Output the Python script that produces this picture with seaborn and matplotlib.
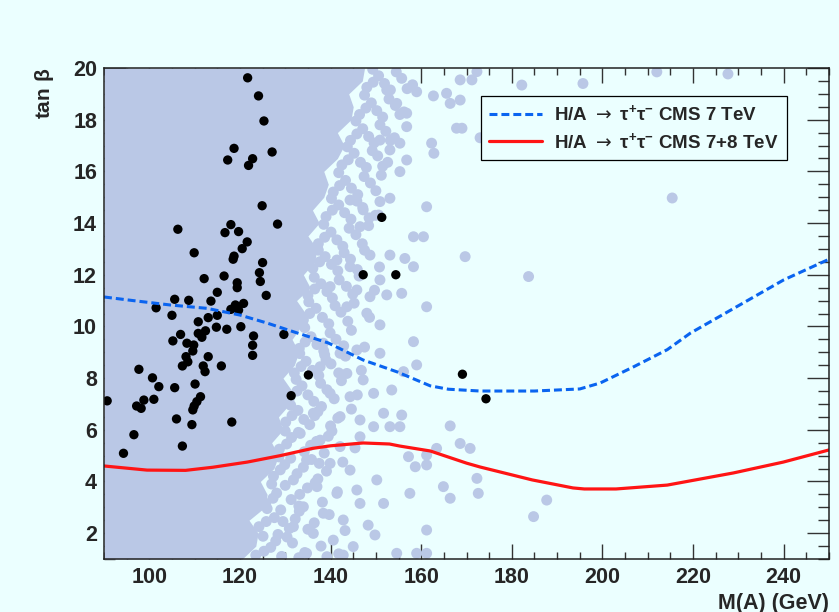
import matplotlib
matplotlib.use("Agg")
import matplotlib.pyplot as plt
import numpy as np
import pandas as pd
import seaborn as sns
from matplotlib.ticker import MultipleLocator

# ---------------- data ----------------
# CMS 7 TeV exclusion (blue dashed)
blue_x = [90, 96.4, 104.6, 112.7, 120, 126, 131.7, 139.5, 147.2, 154.7, 162, 166,
          173, 185, 195, 199.5, 206.8, 214.3, 219.4, 225, 230, 235, 240, 245, 250]
blue_y = [11.14, 11.0, 10.83, 10.7, 10.44, 10.13, 9.8, 9.36, 8.7, 8.24, 7.7, 7.57,
          7.5, 7.5, 7.58, 7.81, 8.43, 9.1, 9.74, 10.3, 10.8, 11.3, 11.8, 12.2, 12.6]

# CMS 7+8 TeV exclusion (red solid)
red_x = [90, 99.5, 108, 114, 121.6, 128.9, 136, 140, 147.2, 153, 155.3, 162, 170,
         173, 184.5, 193.5, 196, 203, 214.3, 228.9, 239.9, 250]
red_y = [4.6, 4.44, 4.43, 4.55, 4.75, 5.0, 5.28, 5.38, 5.49, 5.45, 5.37, 5.18, 4.71,
         4.56, 4.06, 3.75, 3.71, 3.71, 3.86, 4.33, 4.75, 5.22]

# black points (selected scan points)
black_x = [121.7, 124.1, 125.3, 118.7, 117.3, 122.8, 121.9, 127.1, 124.9, 128.3,
           106.3, 118.0, 116.7, 119.7, 121.6, 120.5, 109.9, 118.7, 118.5, 125.0,
           124.3, 124.5, 112.1, 116.5, 119.4, 119.4, 125.8, 115.0, 105.6, 108.7,
           113.6, 101.5, 119.0, 120.8, 118.0, 119.7, 105.0, 113.0, 115.0, 110.8,
           114.8, 117.1, 120.2, 129.7, 123.0, 106.9, 110.8, 112.4, 111.6, 105.2,
           108.3, 109.8, 122.8, 109.6, 122.8, 108.1, 113.0, 108.5, 107.3, 111.9,
           112.3, 115.9, 97.7, 100.7, 102.1, 105.6, 110.1, 135.1, 131.3, 90.7,
           101.0, 98.8, 97.2, 98.2, 111.3, 110.5, 109.9, 109.6, 106.0, 109.4,
           118.2, 96.6, 107.3, 94.3, 151.3, 147.2, 154.4, 169.1, 174.3]
black_y = [19.62, 18.92, 17.95, 16.89, 16.44, 16.49, 16.23, 16.75, 14.67, 13.96,
           13.76, 13.94, 13.63, 13.67, 13.27, 13.01, 12.85, 12.72, 12.60, 12.47,
           12.08, 11.74, 11.85, 11.95, 11.69, 11.50, 11.20, 11.32, 11.05, 11.01,
           10.98, 10.72, 10.83, 10.89, 10.66, 10.63, 10.43, 10.34, 10.43, 10.18,
           9.97, 9.89, 9.99, 9.69, 9.63, 9.69, 9.73, 9.83, 9.58, 9.44,
           9.35, 9.28, 9.27, 9.05, 8.88, 8.83, 8.83, 8.63, 8.47, 8.47,
           8.25, 8.47, 8.34, 8.01, 7.67, 7.63, 7.77, 8.12, 7.32, 7.12,
           7.18, 7.15, 6.92, 6.83, 7.28, 7.09, 6.92, 6.77, 6.42, 6.20,
           6.30, 5.81, 5.37, 5.09, 14.22, 12.00, 12.00, 8.15, 7.20]

# ragged edge of the densely filled region of light scan points
dense_y = [1.0, 1.5, 2.0, 2.5, 3.0, 3.5, 4.0, 4.5, 5.0, 5.5,
           6.0, 6.5, 7.0, 7.5, 8.0, 8.5, 9.0, 9.5, 10.0, 10.5,
           11.0, 11.5, 12.0, 12.5, 13.0, 13.5, 14.0, 14.5, 15.0, 15.5,
           16.0, 16.5, 17.0, 17.5, 18.0, 18.5, 19.0, 19.5, 20.0]
dense_edge = [120.5, 123.5, 124, 122, 125.5, 126, 124.5, 127.5, 128.5, 127,
              129.5, 128.5, 131, 131.5, 129.5, 132, 133, 131.5, 133.5, 134.5,
              132.5, 135.5, 134, 136.5, 137, 135, 137.5, 136, 138.5, 139.5,
              138.5, 141.5, 143, 141.5, 144.5, 145, 144, 147, 147.5]

# isolated light scan points outside the dense region
light_x = [159.0, 162.7, 165.6, 166.4, 168.6, 171.2, 172.3, 167.8, 169.0, 162.3,
           162.8, 161.2, 158.3, 160.5, 169.7, 183.7, 182.2, 156.8, 155.3, 153.1,
           150.9, 150.6, 146.5, 148.7, 153.1, 156.4, 158.3, 150.9, 152.4, 155.7,
           161.2, 150.9, 158.3, 150.9, 159.0, 156.1, 153.5, 155.7, 151.7, 153.1,
           155.3, 149.5, 166.4, 168.6, 170.8, 172.3, 172.6, 164.9, 166.4, 161.2,
           163.4, 157.2, 158.7, 161.2, 150.2, 157.5, 151.7, 146.5, 187.7, 184.8,
           161.2, 148.3, 149.8, 154.6, 159.0, 161.2, 142.8, 212.0, 227.7, 215.4,
           195.7, 173.0, 168.6,
           152.4, 154.6, 156.8, 156.8, 155.3, 153.1, 150.9, 144.3, 147.2, 141.4,
           144.3, 139.9, 145.8, 148.7, 143.6, 148.0, 138.4, 142.1, 145.8, 137.7,
           143.6, 147.2, 139.9, 144.3, 149.5, 136.2, 142.1, 146.5, 133.3, 137.7,
           142.1, 146.5, 134.7, 139.9, 144.3, 131.8, 137.0, 141.4, 145.8, 134.0,
           138.4, 142.8, 131.8, 136.2, 140.6, 145.0, 134.7, 139.2]
light_y = [19.08, 18.92, 19.02, 18.63, 19.54, 19.54, 19.86, 17.67, 17.67, 17.09,
           16.70, 14.63, 13.47, 13.47, 12.70, 11.93, 19.34, 16.44, 15.99, 14.96,
           14.83, 14.31, 13.86, 12.76, 12.76, 12.63, 12.31, 11.80, 11.22, 11.28,
           10.76, 10.06, 9.41, 8.96, 8.51, 8.25, 7.54, 6.57, 6.64, 6.12,
           6.12, 6.12, 6.15, 5.47, 5.28, 4.12, 3.54, 3.80, 3.35, 5.02,
           5.28, 4.96, 4.57, 4.64, 4.06, 3.54, 3.15, 3.15, 3.28, 2.64,
           2.12, 2.31, 1.93, 1.22, 1.22, 1.22, 1.15, 19.85, 19.77, 14.97,
           19.40, 17.30, 18.76,
           19.15, 18.63, 18.25, 17.73, 17.09, 16.83, 17.21, 14.89, 14.51, 12.57,
           12.31, 11.54, 11.41, 11.15, 10.76, 10.51, 9.35, 8.96, 9.09, 8.44,
           8.18, 7.93, 7.41, 7.28, 7.41, 6.64, 6.51, 6.38, 5.86, 5.60,
           5.35, 5.73, 4.83, 4.70, 4.44, 4.06, 3.80, 3.54, 3.67, 3.02,
           2.77, 2.51, 2.25, 1.99, 1.73, 1.48, 1.22, 1.09]

# crowded light scan points along the edge of the dense region
band_x = [123.5, 126.8, 129.2, 131.6, 125.1, 134.3, 137.9, 128.4, 141.8,
          124.2, 127.6, 130.9, 133.1, 126.0, 136.4, 139.7, 129.5, 143.2,
          125.7, 128.1, 131.3, 134.9, 138.2, 127.0, 141.5, 133.0,
          127.4, 129.9, 132.6, 135.8, 139.1, 128.6, 142.7, 137.2,
          128.7, 131.4, 134.2, 136.9, 140.3, 130.0, 145.4, 138.6,
          130.1, 132.8, 135.4, 138.0, 141.6, 131.2, 144.6, 136.5,
          131.0, 133.7, 136.3, 139.2, 142.4, 132.4, 145.9,
          132.0, 134.6, 137.4, 140.1, 143.3, 133.2, 146.8, 138.7,
          133.1, 135.7, 138.5, 141.2, 144.6, 134.3, 147.5,
          134.0, 136.8, 139.6, 142.3, 145.2, 135.2, 148.6,
          135.0, 137.9, 140.4, 143.5, 146.3, 136.4, 149.7,
          136.1, 138.8, 141.6, 144.4, 147.5, 137.3, 150.8,
          137.3, 140.1, 142.7, 145.6, 148.4, 138.5,
          139.0, 141.8, 144.5, 147.1, 140.2, 149.9,
          140.6, 143.3, 146.0, 148.8, 141.8, 151.2,
          142.5, 145.2, 147.9, 150.4, 143.7, 152.6,
          144.4, 147.1, 149.6, 152.2, 145.6, 154.1,
          146.4, 149.0, 151.5, 154.3, 147.5, 156.2,
          148.0, 150.6, 153.2, 155.7, 149.3, 158.1,
          125.3, 130.4, 133.0, 127.9, 125.8, 129.0, 132.2, 135.0,
          127.3, 130.0, 133.2, 136.6, 128.9, 131.2, 134.0, 137.5,
          130.3, 132.9, 135.6, 139.5, 131.5, 134.1, 137.2, 140.0,
          132.6, 135.0, 137.8, 140.8, 133.5, 136.0, 139.0, 141.8,
          134.4, 137.0, 139.9, 142.9, 135.4, 138.2, 141.0, 143.8,
          136.5, 139.2, 141.9, 144.9, 137.6, 140.2, 143.0, 145.9,
          138.7, 141.4, 144.1, 147.0, 140.4, 143.1, 145.8, 148.5,
          142.0, 144.6, 147.4, 150.0, 143.9, 146.6, 149.2, 151.5,
          145.8, 148.4, 150.9, 153.2, 147.8, 150.2, 152.9, 155.3,
          149.4, 151.9, 154.5, 156.9]
band_y = [1.15, 1.45, 1.10, 1.62, 1.88, 1.25, 1.50, 1.95, 1.20,
          2.25, 2.60, 2.18, 2.85, 2.95, 2.40, 2.72, 2.45, 2.10,
          3.15, 3.55, 3.30, 3.75, 3.20, 3.90, 3.60, 3.05,
          4.20, 4.65, 4.30, 4.85, 4.40, 4.95, 4.75, 4.10,
          5.25, 5.70, 5.15, 5.55, 5.95, 5.95, 5.30, 5.10,
          6.30, 6.75, 6.20, 6.90, 6.45, 6.95, 6.80, 6.55,
          7.25, 7.70, 7.10, 7.55, 7.90, 7.95, 7.35,
          8.20, 8.65, 8.10, 8.55, 8.85, 8.95, 8.30, 8.90,
          9.15, 9.60, 9.05, 9.50, 9.85, 9.95, 9.20,
          10.25, 10.70, 10.10, 10.55, 10.90, 10.95, 10.35,
          11.20, 11.65, 11.10, 11.55, 11.95, 11.90, 11.40,
          12.25, 12.70, 12.15, 12.60, 12.95, 12.95, 12.30,
          13.20, 13.65, 13.10, 13.55, 13.90, 13.95,
          14.25, 14.70, 14.15, 14.60, 14.95, 14.30,
          15.20, 15.65, 15.10, 15.55, 15.95, 15.85,
          16.25, 16.70, 16.15, 16.60, 16.95, 16.35,
          17.20, 17.65, 17.10, 17.55, 17.95, 17.30,
          18.20, 18.65, 18.10, 18.55, 18.95, 18.30,
          19.25, 19.70, 19.15, 19.60, 19.95, 19.35,
          1.30, 1.85, 1.05, 1.70, 2.45, 2.90, 2.55, 2.15,
          3.35, 3.85, 3.50, 3.95, 4.45, 4.90, 4.55, 4.70,
          5.45, 5.90, 5.40, 5.75, 6.55, 6.40, 6.70, 6.15,
          7.50, 7.35, 7.80, 7.20, 8.45, 8.30, 8.70, 8.20,
          9.40, 9.30, 9.75, 9.25, 10.50, 10.35, 10.80, 10.20,
          11.45, 11.35, 11.80, 11.25, 12.50, 12.40, 12.85, 12.20,
          13.45, 13.35, 13.80, 13.20, 14.50, 14.40, 14.85, 14.20,
          15.45, 15.35, 15.80, 15.25, 16.45, 16.35, 16.80, 16.20,
          17.45, 17.35, 17.80, 17.20, 18.45, 18.35, 18.80, 18.20,
          19.45, 19.40, 19.85, 19.20]

# axis ticks
x_ticks = [100, 120, 140, 160, 180, 200, 220, 240]
y_ticks = [2, 4, 6, 8, 10, 12, 14, 16, 18, 20]

# ---------------- styling ----------------
BG = "#ebffff"
LIGHT = "#bac8e6"

sns.set_style("ticks")
plt.rcParams["font.family"] = ["Liberation Sans", "DejaVu Sans"]
plt.rcParams["mathtext.fontset"] = "dejavusans"

fig = plt.figure(figsize=(8.39, 6.12), dpi=100, facecolor=BG)
ax = fig.add_axes([104 / 839, 53 / 612, 725 / 839, 491 / 612])
ax.set_facecolor(BG)

# dense region of scan points
ax.fill_betweenx(dense_y, [90] * len(dense_y), dense_edge, color=LIGHT,
                 linewidth=0, zorder=1)

light_df = pd.DataFrame({"mA": light_x + band_x, "tanb": light_y + band_y})
sns.scatterplot(data=light_df, x="mA", y="tanb", color=LIGHT, s=62,
                edgecolor="none", linewidth=0, ax=ax, zorder=2, legend=False)

black_df = pd.DataFrame({"mA": black_x, "tanb": black_y})
sns.scatterplot(data=black_df, x="mA", y="tanb", color="black", s=45,
                edgecolor="none", linewidth=0, ax=ax, zorder=3, legend=False)

blue_df = pd.DataFrame({"mA": blue_x, "tanb": blue_y})
red_df = pd.DataFrame({"mA": red_x, "tanb": red_y})
sns.lineplot(data=blue_df, x="mA", y="tanb", color="#0a64f0", linewidth=2.2,
             linestyle=(0, (2.6, 1.3)), estimator=None, sort=False, ax=ax,
             zorder=4,
             label=r"H/A $\rightarrow$ $\mathregular{\tau^{+}\tau^{-}}$ CMS 7 TeV")
sns.lineplot(data=red_df, x="mA", y="tanb", color="#ff1414", linewidth=2.3,
             estimator=None, sort=False, ax=ax, zorder=4,
             label=r"H/A $\rightarrow$ $\mathregular{\tau^{+}\tau^{-}}$ CMS 7+8 TeV")

ax.set_xlim(90, 250)
ax.set_ylim(1, 20)
ax.set_xticks(x_ticks)
ax.set_yticks(y_ticks)
ax.xaxis.set_minor_locator(MultipleLocator(5))
ax.yaxis.set_minor_locator(MultipleLocator(0.5))

for sp in ax.spines.values():
    sp.set_visible(True)
    sp.set_linewidth(1.1)
    sp.set_color("#222222")
    sp.set_zorder(6)

ax.tick_params(axis="both", which="both", direction="in", top=True, right=True,
               color="#333333", width=1.0)
ax.tick_params(axis="x", which="major", length=10.5, pad=6)
ax.tick_params(axis="x", which="minor", length=5)
ax.tick_params(axis="y", which="major", length=15.5, pad=5)
ax.tick_params(axis="y", which="minor", length=7.8)
for lab in ax.get_xticklabels() + ax.get_yticklabels():
    lab.set_fontweight("bold")
    lab.set_fontsize(15.5)

ax.set_xlabel("M(A) (GeV)", fontsize=15.5, fontweight="bold", loc="right",
              labelpad=3)
ax.set_ylabel(r"tan $\mathregular{\beta}$", fontsize=15, fontweight="bold",
              loc="top")
ax.yaxis.set_label_coords(-0.066, 1.0)

leg = ax.legend(loc="upper left", bbox_to_anchor=(0.52, 0.943), frameon=True,
                fancybox=False, edgecolor="black", facecolor=BG, framealpha=1,
                prop={"weight": "bold", "size": 13.5}, handlelength=2.8,
                handletextpad=0.64, borderpad=0.45, labelspacing=0.4,
                borderaxespad=0)
leg.get_frame().set_linewidth(0.9)
leg.set_zorder(7)

fig.savefig("out.png", dpi=100, facecolor=BG)
